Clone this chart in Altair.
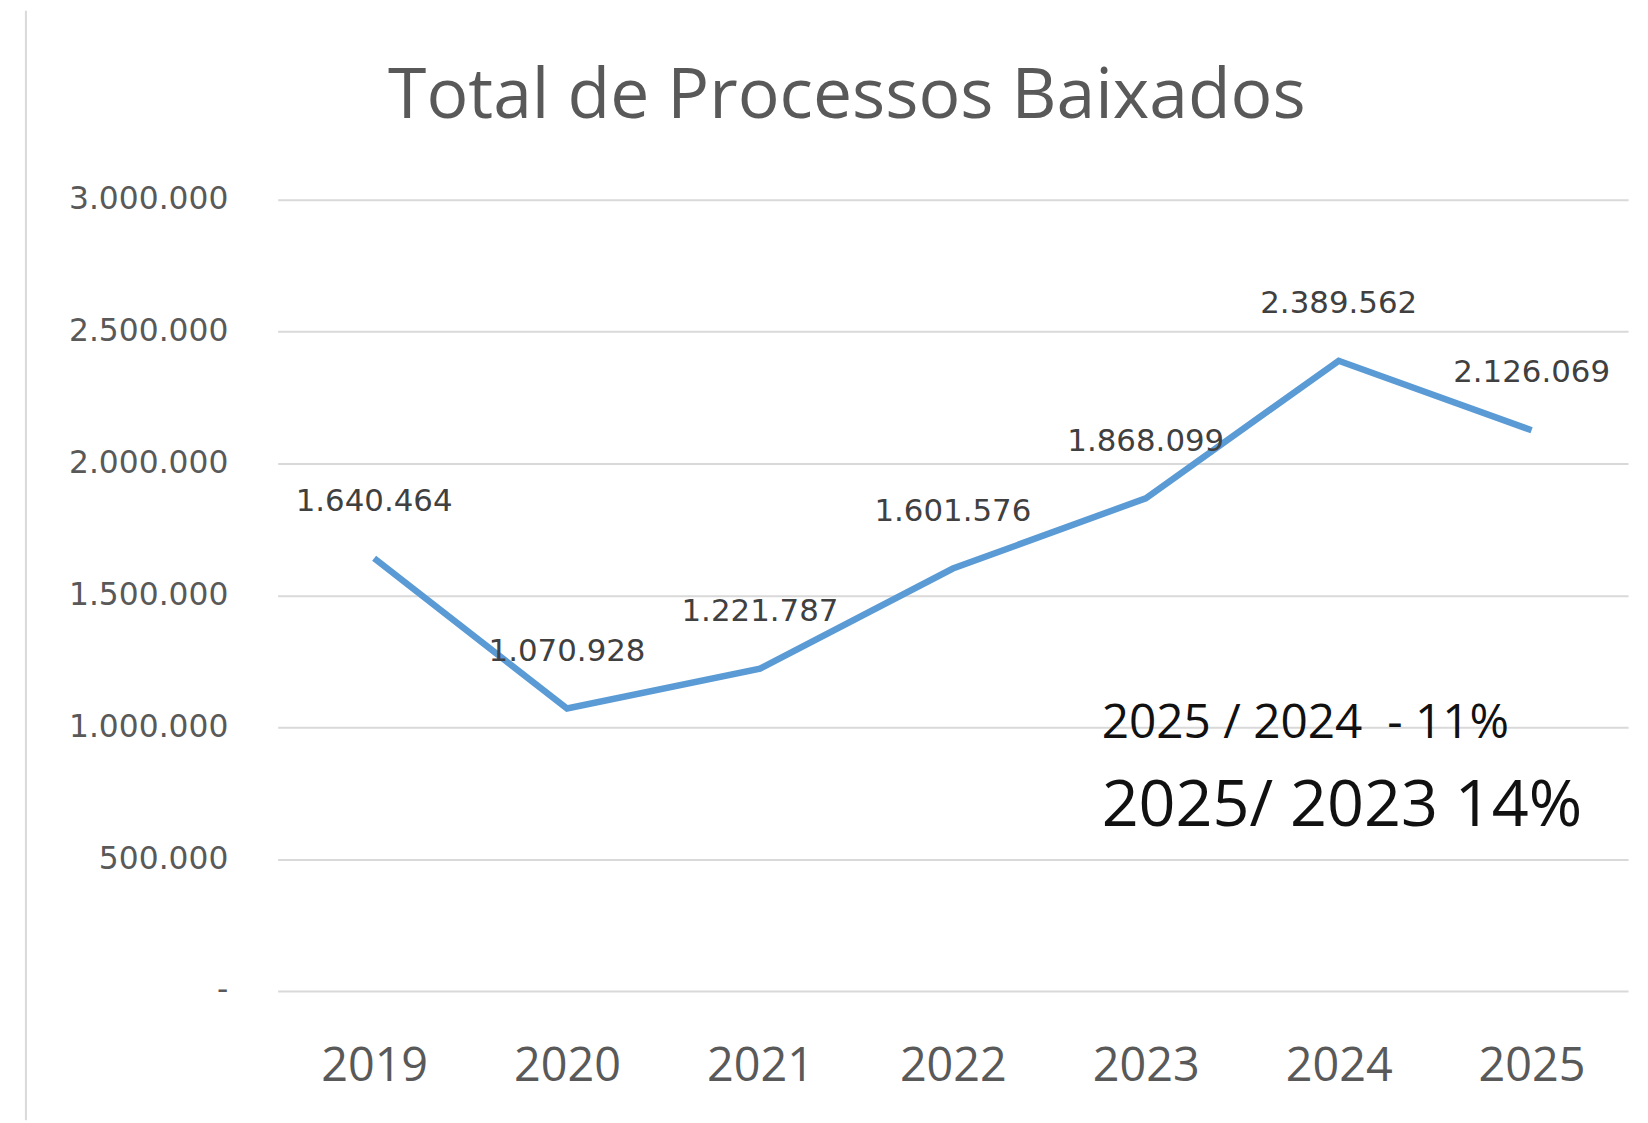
import altair as alt
import pandas as pd

years = ["2019", "2020", "2021", "2022", "2023", "2024", "2025"]
values = [1640464, 1070928, 1221787, 1601576, 1868099, 2389562, 2126069]
y_ticks = [0, 500000, 1000000, 1500000, 2000000, 2500000, 3000000]
title_text = "Total de Processos Baixados"
note1 = "2025 / 2024 \u00a0- 11%"
note2 = "2025/ 2023 14%"


def br(n):
    return f"{n:,}".replace(",", ".")


df = pd.DataFrame({"ano": years, "valor": values, "rotulo": [br(v) for v in values]})

W, H = 1357, 795

x = alt.X("ano:N", sort=years, scale=alt.Scale(type="point", padding=0.5),
          axis=alt.Axis(title=None, domain=False, ticks=False, labelAngle=0,
                        labelFont="Open Sans", labelFontSize=47, labelColor="#595959",
                        labelPadding=76, labelBaseline="middle", grid=False))
y = alt.Y("valor:Q", scale=alt.Scale(domain=[0, 3000000], nice=False),
          axis=alt.Axis(title=None, domain=False, ticks=False, values=y_ticks,
                        labelExpr="datum.value == 0 ? '-' : replace(format(datum.value, ',d'), /,/g, '.')",
                        labelFont="DejaVu Sans", labelFontSize=31.5, labelColor="#595959",
                        labelPadding=50, labelBaseline="middle",
                        grid=True, gridColor="#d9d9d9", gridWidth=2))

line = alt.Chart(df).mark_line(color="#5B9BD5", strokeWidth=6.5).encode(x=x, y=y)

labels = alt.Chart(df).mark_text(font="DejaVu Sans", fontSize=31, color="#404040",
                                 baseline="middle", dy=-57).encode(
    x=alt.X("ano:N", sort=years), y="valor:Q", text="rotulo:N")

ann1 = alt.Chart(pd.DataFrame({"t": [note1]})).mark_text(
    font="Open Sans", fontSize=48, color="#111111", align="left", baseline="middle"
).encode(x=alt.value(828), y=alt.value(527), text="t:N")
ann2 = alt.Chart(pd.DataFrame({"t": [note2]})).mark_text(
    font="Open Sans", fontSize=65, color="#111111", align="left", baseline="middle"
).encode(x=alt.value(828), y=alt.value(609), text="t:N")

title = alt.Chart(pd.DataFrame({"t": [title_text]})).mark_text(
    font="Open Sans", fontSize=70, color="#595959", align="center", baseline="middle"
).encode(x=alt.value(572), y=alt.value(-103), text="t:N")

border = alt.Chart(pd.DataFrame({"a": [0]})).mark_rule(color="#d9d9d9", strokeWidth=2).encode(
    x=alt.value(-253), y=alt.value(-190), y2=alt.value(H + 130))

chart = alt.layer(border, line, labels, ann1, ann2, title).properties(
    width=W, height=H,
    autosize=alt.AutoSizeParams(type="none"),
    padding={"left": 271, "top": 190, "right": 12, "bottom": 130},
).configure(background="white").configure_view(stroke=None)

chart.save("out.html", embed_options={"renderer": "svg", "actions": False})
